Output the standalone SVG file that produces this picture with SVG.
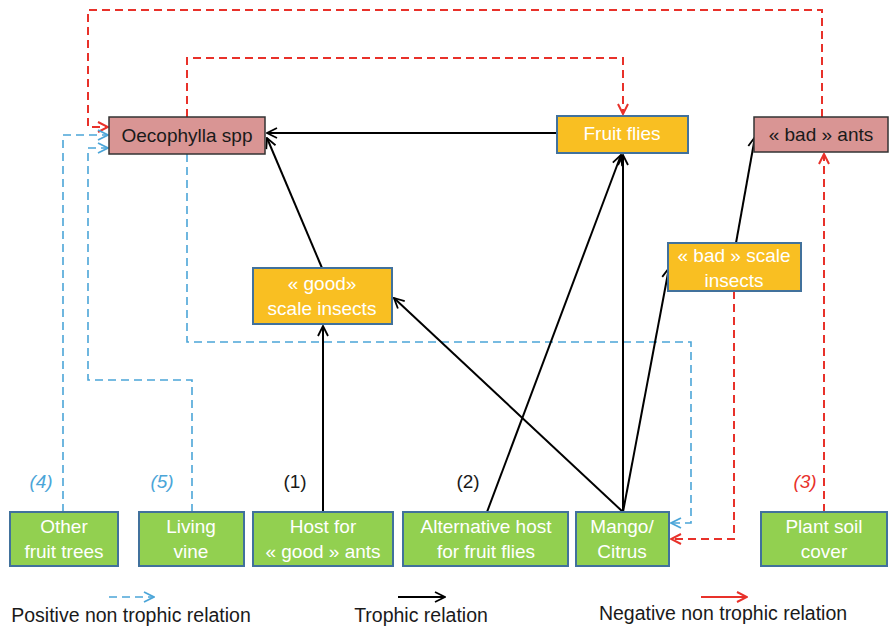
<svg xmlns="http://www.w3.org/2000/svg" width="889" height="628" viewBox="0 0 889 628">
<style>
text{font-family:"Liberation Sans",Arial,sans-serif;font-size:19px;text-anchor:middle}
.w{fill:#fff}.k{fill:#1a1a1a}
.g{fill:#92D050;stroke:#41719C;stroke-width:2}
.o{fill:#F9BF22;stroke:#41719C;stroke-width:2}
.p{fill:#D99594;stroke:#333;stroke-width:1.5}
.t{stroke:#000;stroke-width:2;fill:none}
.r{stroke:#E8312A;stroke-width:2;fill:none;stroke-dasharray:8 5}
.b{stroke:#4BA5D8;stroke-width:1.6;fill:none;stroke-dasharray:8 5}
.lab{font-style:italic}
.leg{font-size:19.5px}
</style>
<defs>
<marker id="ak" viewBox="0 0 12 12" refX="11" refY="6" markerWidth="12" markerHeight="12" markerUnits="userSpaceOnUse" orient="auto"><path d="M1,1 L11,6 L1,11" fill="none" stroke="#000" stroke-width="1.8"/></marker>
<marker id="ar" viewBox="0 0 12 12" refX="11" refY="6" markerWidth="12" markerHeight="12" markerUnits="userSpaceOnUse" orient="auto"><path d="M1,1 L11,6 L1,11" fill="none" stroke="#E8312A" stroke-width="2"/></marker>
<marker id="ab" viewBox="0 0 12 12" refX="11" refY="6" markerWidth="12" markerHeight="12" markerUnits="userSpaceOnUse" orient="auto"><path d="M1,1 L11,6 L1,11" fill="none" stroke="#4BA5D8" stroke-width="1.8"/></marker>
</defs>
<rect width="889" height="628" fill="#fff"/>
<g id="connectors">
<path class="r" d="M822,117 V10 H88 V127 H108" marker-end="url(#ar)"/>
<path class="r" d="M187,117 V58 H623 V114" marker-end="url(#ar)"/>
<path class="r" d="M824,512 V154" marker-end="url(#ar)"/>
<path class="r" d="M734,291 V539 H671" marker-end="url(#ar)"/>
<path class="b" d="M63,512 V135 H108" marker-end="url(#ab)"/>
<path class="b" d="M192,512 V380 H88 V148 H108" marker-end="url(#ab)"/>
<path class="b" d="M187,154 V342 H691 V523 H671" marker-end="url(#ab)"/>
<path class="t" d="M557,133 H267" marker-end="url(#ak)"/>
<path class="t" d="M322,268 L267,138" marker-end="url(#ak)"/>
<path class="t" d="M323,512 V326" marker-end="url(#ak)"/>
<path class="t" d="M623,512 L394,298" marker-end="url(#ak)"/>
<path class="t" d="M623,512 V155" marker-end="url(#ak)"/>
<path class="t" d="M623,512 L669,268" marker-end="url(#ak)"/>
<path class="t" d="M487,512 L621,155" marker-end="url(#ak)"/>
<path class="t" d="M736,243 L755,137" marker-end="url(#ak)"/>
</g>
<g id="oecophylla"><rect class="p" x="109" y="117" width="156" height="37"/><text class="k" x="187" y="142">Oecophylla spp</text></g>
<g id="fruit-flies"><rect class="o" x="557" y="116" width="131" height="37"/><text class="w" x="622" y="140">Fruit flies</text></g>
<g id="bad-ants"><rect class="p" x="754" y="117" width="134" height="35"/><text class="k" x="821" y="141">« bad » ants</text></g>
<g id="good-scale"><rect class="o" x="253" y="268" width="139" height="56"/><text class="w" x="322" y="290">« good»</text><text class="w" x="322" y="315">scale insects</text></g>
<g id="bad-scale"><rect class="o" x="668" y="243" width="133" height="48"/><text class="w" x="734" y="262">« bad » scale</text><text class="w" x="734" y="287">insects</text></g>
<g id="other-fruit"><rect class="g" x="10" y="512" width="108" height="54"/><text class="w" x="64" y="533">Other</text><text class="w" x="64" y="558">fruit trees</text></g>
<g id="living-vine"><rect class="g" x="139" y="512" width="105" height="54"/><text class="w" x="191" y="533">Living</text><text class="w" x="191" y="558">vine</text></g>
<g id="host-good"><rect class="g" x="253" y="512" width="140" height="54"/><text class="w" x="323" y="533">Host for</text><text class="w" x="323" y="558">« good » ants</text></g>
<g id="alt-host"><rect class="g" x="403" y="512" width="165" height="54"/><text class="w" x="486" y="533">Alternative host</text><text class="w" x="486" y="558">for fruit flies</text></g>
<g id="mango"><rect class="g" x="576" y="512" width="93" height="54"/><text class="w" x="622" y="533">Mango/</text><text class="w" x="622" y="558">Citrus</text></g>
<g id="plant-soil"><rect class="g" x="761" y="512" width="126" height="54"/><text class="w" x="824" y="533">Plant soil</text><text class="w" x="824" y="558">cover</text></g>
<g id="labels">
<text class="lab" x="41" y="488" fill="#4BA5D8">(4)</text>
<text class="lab" x="162" y="488" fill="#4BA5D8">(5)</text>
<text x="295" y="488" fill="#1a1a1a">(1)</text>
<text x="468" y="488" fill="#1a1a1a">(2)</text>
<text class="lab" x="805" y="488" fill="#E8312A">(3)</text>
</g>
<g id="legend">
<path class="b" d="M109,597 H154" marker-end="url(#ab)"/>
<path class="t" d="M398,597 H445" stroke-width="1.6" marker-end="url(#ak)"/>
<path d="M701,597 H747" stroke="#E8312A" stroke-width="2" marker-end="url(#ar)"/>
<text class="k leg" x="131" y="622">Positive non trophic relation</text>
<text class="k leg" x="421" y="622">Trophic relation</text>
<text class="k leg" x="723" y="620">Negative non trophic relation</text>
</g>
</svg>
